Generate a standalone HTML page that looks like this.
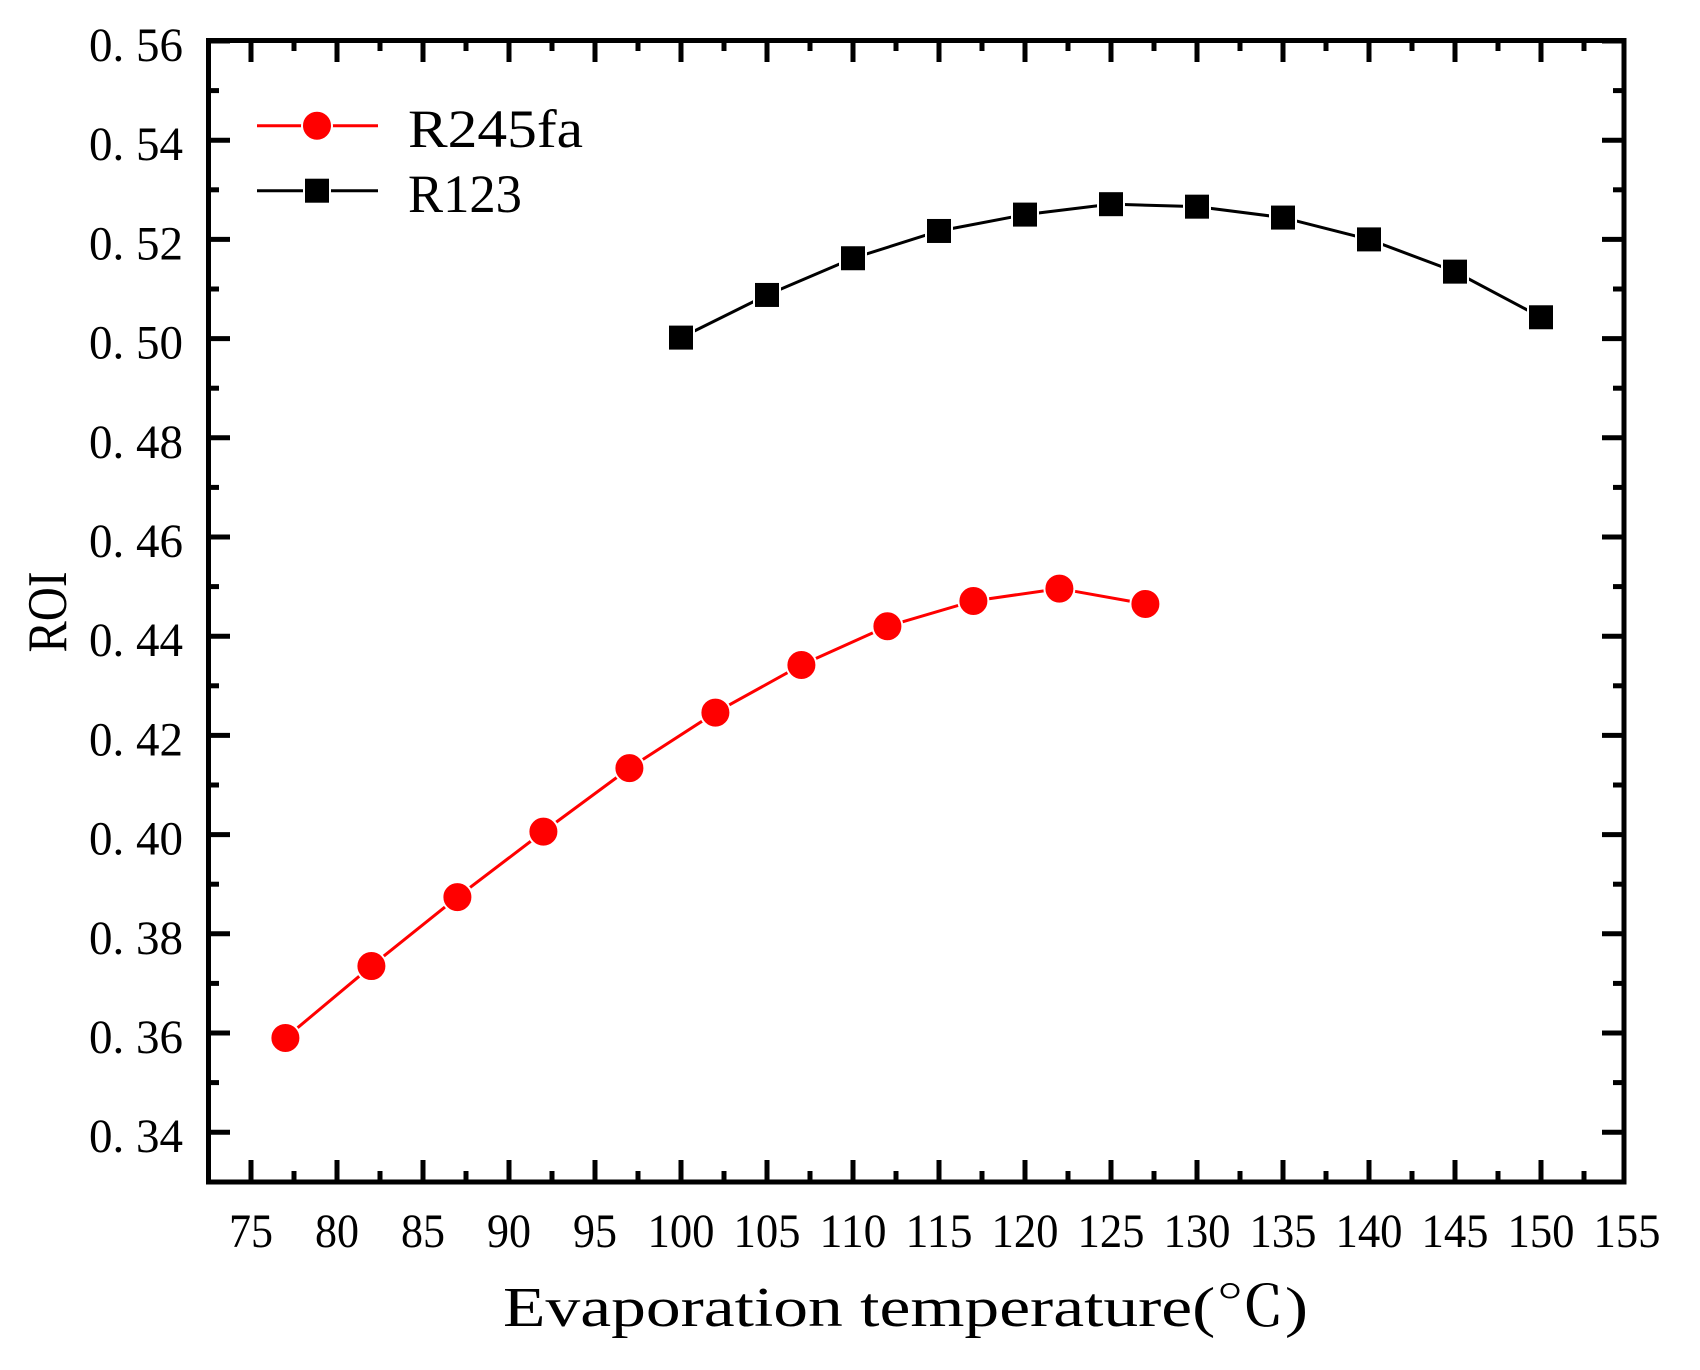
<!DOCTYPE html>
<html><head><meta charset="utf-8"><style>html,body{margin:0;padding:0;background:#fff}svg{display:block}</style></head>
<body>
<svg width="1700" height="1370" viewBox="0 0 1700 1370" xmlns="http://www.w3.org/2000/svg">
<rect width="1700" height="1370" fill="#fff"/>
<g id="ticks" stroke="#000" stroke-width="5"></g>
<rect x="208.5" y="40.5" width="1415.5" height="1141.5" fill="none" stroke="#000" stroke-width="5"/>
<g id="series"></g>
<g font-family="'Liberation Serif','Noto Serif CJK SC',serif" fill="#000">
<g id="ylab" font-size="48" text-anchor="end"></g>
<g id="xlab" font-size="48" text-anchor="middle"></g>
<text x="47" y="612" font-size="56" text-anchor="middle" transform="rotate(-90 47 612)" dy="19" textLength="81" lengthAdjust="spacingAndGlyphs">ROI</text>
<text x="503" y="1326" font-size="56" textLength="805" lengthAdjust="spacingAndGlyphs">Evaporation temperature(℃)</text>
<text x="408" y="147" font-size="54" textLength="175" lengthAdjust="spacingAndGlyphs">R245fa</text>
<text x="408" y="212" font-size="54" textLength="114" lengthAdjust="spacingAndGlyphs">R123</text>
</g>
<line x1="257" y1="125.7" x2="378" y2="125.7" stroke="#f00" stroke-width="3"/>
<circle cx="317" cy="125.7" r="15" fill="#f00" stroke="#fff" stroke-width="2"/>
<line x1="257" y1="190.7" x2="378" y2="190.7" stroke="#000" stroke-width="3"/>
<rect x="304" y="177.7" width="26" height="26" fill="#000" stroke="#fff" stroke-width="2"/>
</svg>
<script>
var NS="http://www.w3.org/2000/svg";
function el(t,a,p){var e=document.createElementNS(NS,t);for(var k in a)e.setAttribute(k,a[k]);p.appendChild(e);return e;}
var X=function(t){return 251+(t-75)*17.2;}, Y=function(v){return 41+(0.56-v)*4960;};
var tk=document.getElementById('ticks'),yl=document.getElementById('ylab'),xl=document.getElementById('xlab');
for(var i=0;i<=22;i++){var v=0.34+i*0.01,y=Y(v),L=(i%2==0)?22:11;
 el('line',{x1:208,y1:y,x2:208+L,y2:y},tk);el('line',{x1:1624,y1:y,x2:1624-L,y2:y},tk);
 if(i%2==0){var t=el('text',{x:183,y:y+20,textLength:94,lengthAdjust:'spacingAndGlyphs'},yl);t.textContent='0. '+Math.round(v*100);}}
for(var i=0;i<=32;i++){var t=75+i*2.5,x=X(t),L=(i%2==0)?22:11;
 if(i<32){el('line',{x1:x,y1:1182,x2:x,y2:1182-L},tk);el('line',{x1:x,y1:40,x2:x,y2:40+L},tk);}
 if(i%2==0){var s=el('text',{x:x,y:1247,textLength:(t>=100?67:44),lengthAdjust:'spacingAndGlyphs'},xl);s.textContent=t;}}
var s=document.getElementById('series');
var rv=[0.359,0.3735,0.3874,0.4006,0.4134,0.4246,0.4342,0.4420,0.4471,0.4496,0.4465];
var bv=[0.5002,0.5088,0.5162,0.5217,0.5250,0.5271,0.5266,0.5244,0.5200,0.5135,0.5043];
var red=rv.map(function(v,i){return [X(77+5*i),Y(v)];});
var blk=bv.map(function(v,i){return [X(100+5*i),Y(v)];});
el('polyline',{points:red.join(' '),fill:'none',stroke:'#f00','stroke-width':3},s);
el('polyline',{points:blk.join(' '),fill:'none',stroke:'#000','stroke-width':3},s);
red.forEach(function(p){el('circle',{cx:p[0],cy:p[1],r:15,fill:'#f00',stroke:'#fff','stroke-width':2},s);});
blk.forEach(function(p){el('rect',{x:p[0]-13,y:p[1]-13,width:26,height:26,fill:'#000',stroke:'#fff','stroke-width':2},s);});
</script>
</body></html>
